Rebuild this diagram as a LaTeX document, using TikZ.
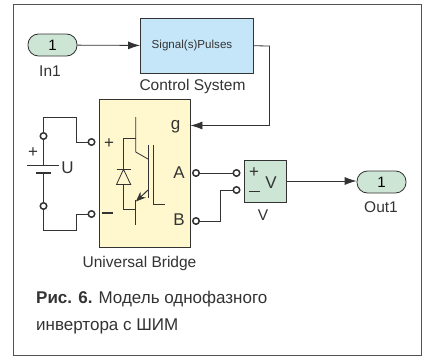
\documentclass[tikz,border=0pt]{standalone}
\usepackage{fontspec}
\setmainfont{Liberation Sans}
\usetikzlibrary{arrows.meta,positioning}
\definecolor{ink}{HTML}{333333}
\definecolor{pgreen}{HTML}{CDE5D5}
\definecolor{pblue}{HTML}{C5E6F8}
\definecolor{pyellow}{HTML}{FFF7CE}
\tikzset{
  wire/.style={draw=ink,line width=0.8pt},
  sig/.style={wire,-{Latex[length=12pt,width=8pt]}},
  pill/.style={draw=ink,line width=0.8pt,fill=pgreen,rounded corners=10.5pt,minimum width=49pt,minimum height=22pt,inner sep=0,font=\fontsize{15}{15}\selectfont},
  blockbox/.style={draw=ink,line width=0.9pt,inner sep=0},
  term/.style={circle,draw=ink,line width=1.5pt,fill=white,minimum size=6.5pt,inner sep=0},
  lbl/.style={inner sep=0,text=ink,font=\fontsize{15.5}{16}\selectfont},
  big/.style={inner sep=0,text=ink,font=\fontsize{17}{17}\selectfont},
  captext/.style={inner sep=0,anchor=base west,text=ink,font=\fontsize{17}{18}\selectfont}
}
\begin{document}
\begin{tikzpicture}[x=1pt,y=-1pt]
\useasboundingbox (0,0) rectangle (422,356);
\fill[white] (0,0) rectangle (422,356);
\draw[draw=ink!85,line width=1pt] (13.5,4) rectangle (421.5,355);
% blocks
\node[pill] (in) at (52.5,45) {1};
\node[lbl] (inl) at (50,71) {In1};
\node[blockbox,fill=pblue,minimum width=112.5pt,minimum height=54.5pt] (ctl) at (196.75,45.75) {};
\node[inner sep=0,anchor=west,text=ink,font=\fontsize{11.6}{12}\selectfont] (ctlt) at (151.5,45.5) {Signal(s)Pulses};
\node[lbl] (ctll) at (192.5,86) {Control System};
\node[blockbox,fill=pyellow,minimum width=90.5pt,minimum height=148pt] (br) at (144.75,173) {};
\node[lbl] (brl) at (139.5,263) {Universal Bridge};
\node[blockbox,fill=pgreen,minimum width=42pt,minimum height=41.5pt] (vb) at (265.7,181.2) {};
\node[lbl] (vl) at (263,215) {V};
\node[pill] (out) at (381.5,182) {1};
\node[lbl] (outl) at (381,207) {Out1};
% bridge texts
\node[big] (plus) at (109,144) {+};
\node[big] (g) at (175.5,127) {g};
\node[big] (A) at (179,173) {A};
\node[big] (B) at (179,220) {B};
\draw[draw=ink,line width=1.3pt] (101.5,213) -- (112.5,213);
% V block texts
\node[big] (vp) at (254,173) {+};
\draw[draw=ink,line width=1.3pt] (249,191.5) -- (260,191.5);
\node[big] (vv) at (271,183) {V};
% terminals
\node[term] (t1) at (43.5,136) {};
\node[term] (t2) at (43.5,206) {};
\node[term] (bp) at (91.5,142) {};
\node[term] (bm) at (91.5,214) {};
\node[term] (ba) at (196,173) {};
\node[term] (bb) at (196,221) {};
\node[term] (va) at (236.5,173) {};
\node[term] (vm) at (236.5,190) {};
% battery
\coordinate (plong) at (43.5,165.5);
\coordinate (pshort) at (43.5,173);
\draw[wire] (t1) -- (plong);
\draw[wire] (pshort) -- (t2);
\draw[draw=ink,line width=0.9pt] (27,165.5) -- (59,165.5);
\draw[draw=ink,line width=1.2pt] (36,173) -- (51,173);
\node[big] (bplus) at (33,153) {+};
\node[big] (U) at (67.5,168) {U};
% wires
\draw[sig] (in) -- (ctl);
\draw[sig] (ctl.east) -- (269.5,46) -- (269.5,125.5) -- (br.east|-0,125.5);
\draw[wire] (t1) -- (43.5,117.5) -- (76.5,117.5) -- (76.5,142) -- (bp);
\draw[wire] (t2) -- (43.5,230) -- (76.5,230) -- (76.5,214) -- (bm);
\draw[wire] (ba) -- (va);
\draw[wire] (bb) -- (220.5,221) -- (220.5,190) -- (vm);
\draw[sig] (vb.east|-0,181) -- (out.west|-0,181);
% IGBT symbol
\begin{scope}[draw=ink,line width=0.8pt]
\draw (135.7,117) -- (135.7,152) -- (148,159);
\draw (135.7,138) -- (123.5,138) -- (123.5,169);
\draw (116.5,169.3) -- (131,169.3);
\draw (123.5,169.3) -- (116.5,184.5) -- (130.7,184.5) -- cycle;
\draw (123.5,184.5) -- (123.5,209.5) -- (135.7,209.5);
\draw (135.7,200) -- (135.7,224.5);
\draw (148,145) -- (148,198);
\draw (153,145) -- (153,204.7) -- (165,204.7);
\draw[line width=1pt,-{Stealth[length=10pt,width=8pt]}] (148,190) -- (135.9,201.5);
\end{scope}
% caption
\node[captext] (c1) at (36,303) {\textbf{Рис. 6.}\hspace{0.35em}Модель однофазного};
\node[captext] (c2) at (36,330) {инвертора с ШИМ};
\end{tikzpicture}
\end{document}
